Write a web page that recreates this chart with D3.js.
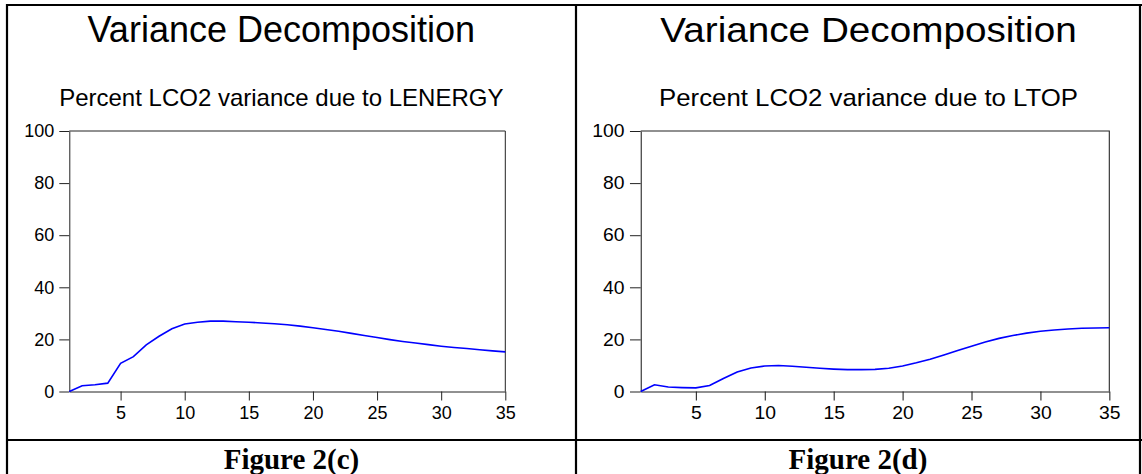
<!DOCTYPE html>
<html lang="en">
<head>
	<meta charset="UTF-8"/>
	<title>Variance Decomposition</title>
	<script src="https://d3js.org/d3.v7.min.js"></script>
	<style>
		body { margin: 0; background-color: white; }
		.title    { font-family: "Liberation Sans", Arial, sans-serif; font-size: 36px; fill: black; }
		.subtitle { font-family: "Liberation Sans", Arial, sans-serif; font-size: 24px; fill: black; }
		.tick text { font-family: "Liberation Sans", Arial, sans-serif; font-size: 18px; fill: black; }
		.tick line, .domain { stroke: #222; }
		.frame { fill: none; stroke: #222; stroke-width: 1; }
		.line { fill: none; stroke: #0000ff; stroke-width: 1.6; }
		.caption { font-family: "Liberation Serif", "Times New Roman", serif; font-weight: bold; font-size: 29px; fill: black; }
		.grid { stroke: black; stroke-width: 2.2; }
	</style>
</head>
<body>
	<div id="chart"></div>

	<script>
	// periods 1..35
	var periods = d3.range(1, 36);
	var xTicks = [5, 10, 15, 20, 25, 30, 35];
	var yTicks = [0, 20, 40, 60, 80, 100];

	// percent LCO2 variance due to LENERGY
	var lenergy = [0, 2.2, 2.6, 3.2, 10.8, 13.4, 17.9, 21.2, 24.1, 25.9,
		26.6, 27.0, 27.0, 26.8, 26.6, 26.3, 26.0, 25.6, 25.1, 24.5,
		23.8, 23.1, 22.3, 21.5, 20.7, 19.9, 19.2, 18.6, 18.0, 17.4,
		16.9, 16.5, 16.0, 15.6, 15.2];

	// percent LCO2 variance due to LTOP
	var ltop = [0, 2.6, 1.7, 1.5, 1.4, 2.3, 5.0, 7.5, 9.0, 9.8,
		10.0, 9.7, 9.3, 8.9, 8.6, 8.4, 8.4, 8.5, 8.9, 9.8,
		11.0, 12.4, 14.0, 15.7, 17.4, 19.0, 20.4, 21.5, 22.4, 23.1,
		23.6, 24.0, 24.3, 24.4, 24.5];

	var mainTitle = "Variance Decomposition";
	var subtitles = ["Percent LCO2 variance due to LENERGY", "Percent LCO2 variance due to LTOP"];
	var captions = ["Figure 2(c)", "Figure 2(d)"];

	var W = 1142, H = 474;
	// plot box in panel coords
	var box = {left: 69.3, right: 505.3, top: 131, bottom: 391.5};

	var svg = d3.select("#chart")
		.append("svg")
		.attr("width", W)
		.attr("height", H);

	svg.append("rect").attr("width", W).attr("height", H).attr("fill", "white");

	function drawPanel(g, values, subtitle){
		var xScale = d3.scaleLinear()
			.domain([1, 35])
			.range([box.left, box.right]);
		var yScale = d3.scaleLinear()
			.domain([0, 100])
			.range([box.bottom, box.top]);

		var cx = (box.left + box.right) / 2 - 6;

		g.append("text")
			.attr("class", "title")
			.attr("x", cx)
			.attr("y", 42)
			.attr("text-anchor", "middle")
			.text(mainTitle);

		g.append("text")
			.attr("class", "subtitle")
			.attr("x", cx)
			.attr("y", 106)
			.attr("text-anchor", "middle")
			.text(subtitle);

		// top and right edges of the box
		g.append("path")
			.attr("class", "frame")
			.attr("d", "M" + box.left + "," + box.top + "H" + box.right + "V" + box.bottom);

		var xAxis = d3.axisBottom(xScale)
			.tickValues(xTicks)
			.tickSize(9)
			.tickPadding(6)
			.tickSizeOuter(0);
		var yAxis = d3.axisLeft(yScale)
			.tickValues(yTicks)
			.tickSize(10)
			.tickPadding(5)
			.tickSizeOuter(0);

		g.append("g")
			.attr("transform", "translate(0," + box.bottom + ")")
			.call(xAxis);
		g.append("g")
			.attr("transform", "translate(" + box.left + ",0)")
			.call(yAxis);

		var line = d3.line()
			.x(function(d, i){ return xScale(periods[i]); })
			.y(function(d){ return yScale(d); });

		g.append("path")
			.datum(values)
			.attr("class", "line")
			.attr("d", line);
	}

	// left panel drawn at natural size, right panel stretched a little wider
	var left = svg.append("g");
	drawPanel(left, lenergy, subtitles[0]);

	var sx = (1109.3 - 640.7) / (box.right - box.left);
	var right = svg.append("g")
		.attr("transform", "translate(" + (640.7 - box.left * sx) + ",0) scale(" + sx + ",1)");
	drawPanel(right, ltop, subtitles[1]);

	// table lines
	var grid = svg.append("g");
	grid.append("line").attr("class", "grid").attr("x1", 7).attr("x2", 7).attr("y1", 4).attr("y2", H);
	grid.append("line").attr("class", "grid").attr("x1", 576).attr("x2", 576).attr("y1", 4).attr("y2", H);
	grid.append("line").attr("class", "grid").attr("x1", 1140).attr("x2", 1140).attr("y1", 4).attr("y2", H);
	grid.append("line").attr("class", "grid").attr("x1", 6).attr("x2", 1142).attr("y1", 5).attr("y2", 5);
	grid.append("line").attr("class", "grid").attr("x1", 6).attr("x2", 1142).attr("y1", 440).attr("y2", 440);

	svg.selectAll(".caption")
		.data(captions)
		.enter()
		.append("text")
		.attr("class", "caption")
		.attr("x", function(d, i){ return i == 0 ? 291.5 : 858; })
		.attr("y", 469)
		.attr("text-anchor", "middle")
		.text(function(d){ return d; });
	</script>
</body>
</html>
